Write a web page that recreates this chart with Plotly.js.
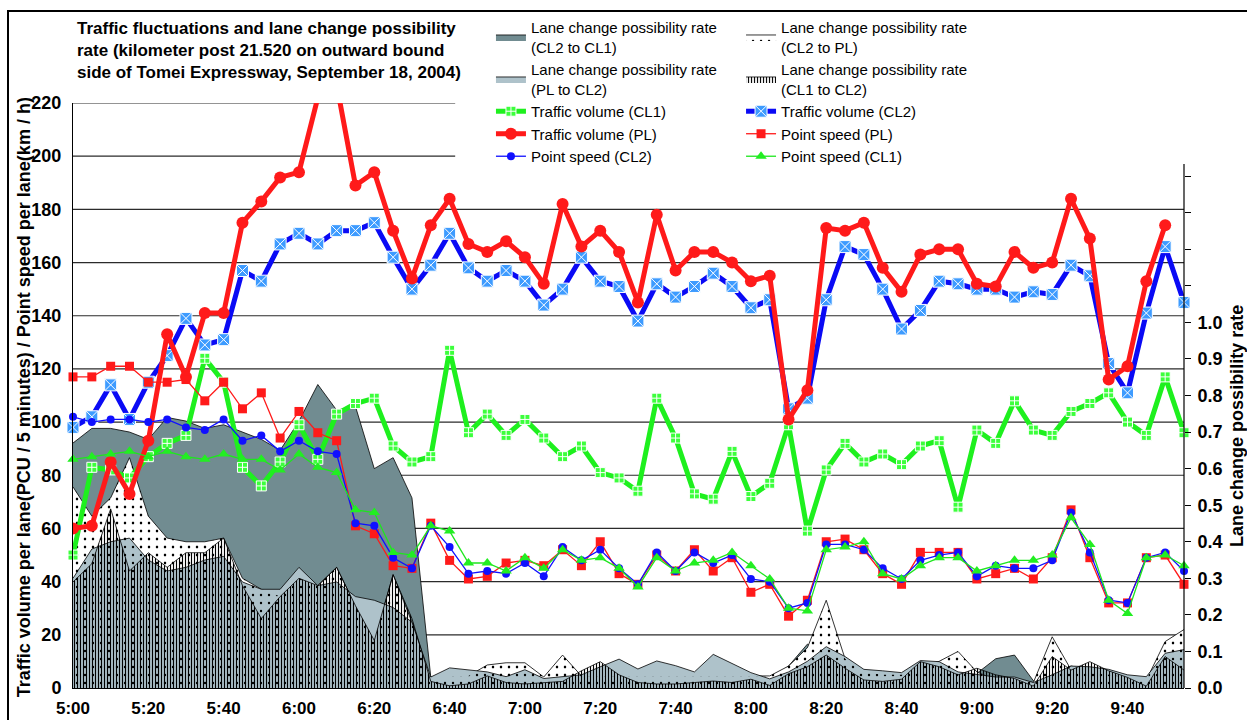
<!DOCTYPE html>
<html><head><meta charset="utf-8">
<script src="https://cdn.plot.ly/plotly-3.0.1.min.js"></script>
<style>
html,body{margin:0;padding:0;background:#fff;width:1247px;height:720px;overflow:hidden;}
#frame{position:absolute;left:7px;top:10px;width:1300px;height:800px;border-left:2px solid #000;border-top:2px solid #000;}
#chart{position:absolute;left:0;top:0;width:1247px;height:720px;}
</style></head><body>
<div id="frame"></div>
<div id="chart"></div>
<script>
// ---- categories ----
const times = ["5:00","5:05","5:10","5:15","5:20","5:25","5:30","5:35","5:40","5:45","5:50","5:55",
"6:00","6:05","6:10","6:15","6:20","6:25","6:30","6:35","6:40","6:45","6:50","6:55",
"7:00","7:05","7:10","7:15","7:20","7:25","7:30","7:35","7:40","7:45","7:50","7:55",
"8:00","8:05","8:10","8:15","8:20","8:25","8:30","8:35","8:40","8:45","8:50","8:55",
"9:00","9:05","9:10","9:15","9:20","9:25","9:30","9:35","9:40","9:45","9:50","9:55"];
const tickLabels = ["5:00","5:20","5:40","6:00","6:20","6:40","7:00","7:20","7:40","8:00","8:20","8:40","9:00","9:20","9:40"];
const leftTicks = [0,20,40,60,80,100,120,140,160,180,200,220];
const rateTicks = [0,0.1,0.2,0.3,0.4,0.5,0.6,0.7,0.8,0.9,1.0,1.1,1.2,1.3,1.4];
const rateLabels = ["0.0","0.1","0.2","0.3","0.4","0.5","0.6","0.7","0.8","0.9","1.0","","","",""];

// ---- lane change possibility rates (right axis) ----
const lcCL2toCL1 = [0.67,0.71,0.71,0.70,0.68,0.74,0.73,0.71,0.72,0.70,
0.68,0.65,0.73,0.83,0.76,0.77,0.60,0.63,0.52,0.03,
0.02,0.02,0.02,0.02,0.02,0.02,0.02,0.02,0.02,0.02,
0.02,0.02,0.02,0.02,0.02,0.02,0.02,0.02,0.06,0.12,
0.09,0.06,0.04,0.03,0.03,0.04,0.04,0.03,0.04,0.08,
0.09,0.02,0.04,0.06,0.05,0.03,0.02,0.02,0.07,0.09];
const lcCL2toPL = [0.55,0.47,0.52,0.63,0.47,0.41,0.40,0.40,0.41,0.30,
0.27,0.25,0.30,0.28,0.33,0.225,0.13,0.31,0.18,0.02,
0.033,0.033,0.063,0.069,0.069,0.03,0.09,0.033,0.033,0.033,
0.033,0.033,0.033,0.033,0.033,0.033,0.033,0.033,0.06,0.11,
0.24,0.08,0.044,0.036,0.036,0.058,0.073,0.10,0.044,0.022,
0.022,0.015,0.14,0.05,0.044,0.036,0.03,0.022,0.127,0.16];
const lcPLtoCL2 = [0.30,0.38,0.40,0.41,0.35,0.32,0.33,0.35,0.36,0.29,
0.27,0.27,0.33,0.28,0.29,0.25,0.24,0.22,0.18,0.03,
0.055,0.05,0.044,0.031,0.05,0.026,0.03,0.036,0.058,0.079,
0.052,0.074,0.061,0.044,0.092,0.068,0.042,0.025,0.044,0.073,
0.113,0.086,0.051,0.047,0.042,0.075,0.072,0.044,0.036,0.03,
0.03,0.015,0.036,0.06,0.058,0.051,0.036,0.031,0.095,0.105];
const lcCL1toCL2 = [0.29,0.34,0.49,0.32,0.37,0.33,0.37,0.37,0.41,0.28,
0.19,0.25,0.30,0.28,0.33,0.225,0.13,0.31,0.19,0.018,
0.006,0.011,0.033,0.015,0.011,0.015,0.018,0.047,0.072,0.036,
0.015,0.011,0.011,0.015,0.019,0.015,0.024,0.007,0.039,0.058,
0.09,0.054,0.022,0.018,0.024,0.072,0.058,0.036,0.054,0.036,
0.026,0.005,0.086,0.049,0.072,0.047,0.029,0.005,0.086,0.049];

// ---- traffic volume per lane (PCU / 5 min) ----
const tvCL1 = [50,83,82,79,87,92,95,124,115,83,
76,85,99,86,103,107,109,91,85,87,
127,96,103,95,101,94,87,91,81,79,
74,109,94,73,71,89,72,77,99,59,
82,92,85,88,84,91,93,68,97,92,
108,97,95,104,107,111,100,95,117,96];
const tvCL2 = [98,102,114,101,115,125,139,129,131,157,
153,167,171,167,172,172,175,162,150,159,
171,158,153,157,153,144,150,162,153,151,
138,152,147,151,156,151,143,146,105,109,
146,166,163,150,135,142,153,152,150,150,
147,149,148,159,155,122,111,141,166,145];
const tvPL = [60,61,85,73,93,133,117,141,141,175,
183,192,194,222,227,189,194,172,154,174,
184,167,164,168,162,152,182,166,172,164,
145,178,157,164,164,160,153,155,101,112,
173,172,175,158,149,163,165,165,152,151,
164,158,160,184,169,116,121,153,174,null];

// ---- point speed (km/h) ----
const psPL = [117,117,121,121,115,115,116,108,115,105,
111,94,104,96,93,61,58,46,45,62,
48,41,42,47,48,46,52,46,55,43,
39,50,44,52,44,49,36,39,27,33,
55,56,52,43,39,51,51,51,41,43,
45,41,49,67,49,32,32,49,50,39];
const psCL2 = [102,100,101,101,100,101,98,97,101,93,
95,89,93,89,88,62,61,49,45,61,
53,43,44,43,47,42,53,48,52,45,
39,51,44,51,47,50,41,40,30,32,
54,54,52,45,41,48,50,51,42,46,
45,45,48,66,51,33,32,49,51,44];
const psCL1 = [86,87,88,89,87,89,87,86,88,86,
86,82,88,83,81,67,66,51,50,61,
59,47,47,44,49,45,52,48,49,45,
38,49,44,47,48,51,46,41,30,29,
52,53,55,43,41,46,49,49,44,46,
48,48,50,64,54,33,28,49,50,46];

const FONT = "'Liberation Sans', Arial, sans-serif";
const LEGFONT = "'Liberation Sans Narrow', 'Arial Narrow', 'Liberation Sans', Arial, sans-serif";
const LC = "Lane change possibility rate<br>";

// Areas live on the base (rate) axis 'y' so they are drawn beneath the line series on 'y2'.
const traces = [
  {type:'scatter', x:times, y:lcCL2toCL1, yaxis:'y', mode:'lines', fill:'tozeroy',
   fillcolor:'#718c91', line:{color:'#000', width:0.8}, name:LC+"(CL2 to CL1)",
   legend:'legend', legendrank:1, legendgroup:'g1', hoverinfo:'skip'},
  {type:'scatter', x:times, y:lcCL2toPL, yaxis:'y', mode:'lines', fill:'tozeroy',
   fillcolor:'#ffffff', fillpattern:{shape:'.', size:8, solidity:0.07, fgcolor:'#000', bgcolor:'#ffffff', fillmode:'replace'},
   line:{color:'#000', width:0.8}, name:LC+"(CL2 to PL)",
   legend:'legend2', legendrank:1, legendgroup:'g2', hoverinfo:'skip'},
  {type:'scatter', x:times, y:lcPLtoCL2, yaxis:'y', mode:'lines', fill:'tozeroy',
   fillcolor:'#aec2ca', line:{color:'#000', width:0.8}, name:LC+"(PL to CL2)",
   legend:'legend', legendrank:2, legendgroup:'g3', hoverinfo:'skip'},
  {type:'scatter', x:times, y:lcCL2toPL, yaxis:'y', mode:'lines', fill:'tozeroy',
   fillcolor:'rgba(0,0,0,0)', fillpattern:{shape:'.', size:8, solidity:0.07, fgcolor:'#000', bgcolor:'rgba(0,0,0,0)', fillmode:'replace'},
   line:{color:'rgba(0,0,0,0)', width:0}, showlegend:false,
   legend:'legend2', legendgroup:'g2', hoverinfo:'skip'},
  {type:'scatter', x:times, y:lcCL1toCL2, yaxis:'y', mode:'lines', fill:'tozeroy',
   fillcolor:'rgba(0,0,0,0)', fillpattern:{shape:'|', size:3, solidity:0.38, fgcolor:'#000', bgcolor:'rgba(0,0,0,0)', fillmode:'replace'},
   line:{color:'#000', width:0.8}, name:LC+"(CL1 to CL2)",
   legend:'legend2', legendrank:2, legendgroup:'g4', hoverinfo:'skip'},
  {type:'scatter', x:times, y:tvCL1, yaxis:'y2', mode:'lines+markers', name:"Traffic volume (CL1)",
   line:{color:'#1ef01e', width:5}, marker:{symbol:'square-cross', size:10, color:'#3cff3c', line:{color:'#ffffff', width:1}},
   legend:'legend', legendrank:3, legendgroup:'g5', cliponaxis:false},
  {type:'scatter', x:times, y:tvCL2, yaxis:'y2', mode:'lines+markers', name:"Traffic volume (CL2)",
   line:{color:'#0a0af5', width:5}, marker:{symbol:'square-x', size:12, color:'#3d9bff', line:{color:'#ffffff', width:1}},
   legend:'legend2', legendrank:3, legendgroup:'g6', cliponaxis:false},
  {type:'scatter', x:times, y:tvPL, yaxis:'y2', mode:'lines+markers', name:"Traffic volume (PL)",
   line:{color:'#ff1a1a', width:5}, marker:{symbol:'circle', size:12, color:'#ff1a1a'},
   legend:'legend', legendrank:4, legendgroup:'g7', cliponaxis:true},
  {type:'scatter', x:times, y:psPL, yaxis:'y2', mode:'lines+markers', name:"Point speed (PL)",
   line:{color:'#ff1a1a', width:1.3}, marker:{symbol:'square', size:9, color:'#ff1a1a'},
   legend:'legend2', legendrank:4, legendgroup:'g8', cliponaxis:false},
  {type:'scatter', x:times, y:psCL2, yaxis:'y2', mode:'lines+markers', name:"Point speed (CL2)",
   line:{color:'#1010ff', width:1.3}, marker:{symbol:'circle', size:8, color:'#1010ff'},
   legend:'legend', legendrank:5, legendgroup:'g9', cliponaxis:false},
  {type:'scatter', x:times, y:psCL1, yaxis:'y2', mode:'lines+markers', name:"Point speed (CL1)",
   line:{color:'#1ee61e', width:1.3}, marker:{symbol:'triangle-up', size:10, color:'#22ee22'},
   legend:'legend2', legendrank:5, legendgroup:'g10', cliponaxis:false}
];

const shapes = leftTicks.filter(v => v > 0).map(v => ({
  type:'line', xref:'paper', yref:'y2', x0:0, x1:(v >= 200 ? 0.344 : 1), y0:v, y1:v,
  line:{color:'#2b2b2b', width:1.2}, layer:'below'
}));
shapes.push({type:'line', xref:'paper', yref:'y', x0:1, x1:1, y0:0, y1:1.433,
  line:{color:'#000', width:1.2}, layer:'above'});

const legendBase = {
  xanchor:'left', yanchor:'top', orientation:'v', bgcolor:'rgba(0,0,0,0)',
  font:{family:LEGFONT, size:15, color:'#000'}, tracegroupgap:0, borderwidth:0
};

const tickFont = {family:FONT, size:18, weight:700, color:'#000'};

const layout = {
  width:1247, height:720,
  margin:{l:73, r:63, t:103, b:32, autoexpand:false},
  paper_bgcolor:'rgba(0,0,0,0)', plot_bgcolor:'rgba(0,0,0,0)',
  font:{family:FONT, color:'#000'},
  title:{text:"Traffic fluctuations and lane change possibility<br>rate (kilometer post 21.520 on outward bound<br>side of Tomei Expressway, September 18, 2004)",
         font:{family:FONT, size:17, weight:700, color:'#000'},
         xref:'paper', x:0.0036, xanchor:'left', yref:'container', y:0.9525, yanchor:'top'},
  xaxis:{type:'category', categoryorder:'array', categoryarray:times, range:[0,59],
         tickmode:'array', tickvals:tickLabels, ticktext:tickLabels, ticks:'',
         ticklabelstandoff:5, tickfont:{family:FONT, size:17, weight:700, color:'#000'},
         showgrid:false, zeroline:false, showline:true, linecolor:'#000', linewidth:1},
  // rate axis (right)
  yaxis:{side:'right', range:[0,1.6], tickmode:'array', tickvals:rateTicks, ticktext:rateLabels,
         ticks:'outside', ticklen:6, tickcolor:'#000', tickwidth:1,
         ticklabelstandoff:3, tickfont:tickFont,
         showgrid:false, zeroline:false, showline:false},
  // volume / speed axis (left)
  yaxis2:{overlaying:'y', side:'left', range:[0,220], tickmode:'array', tickvals:leftTicks, ticks:'',
          ticklabelstandoff:7, tickfont:tickFont,
          showgrid:false, zeroline:false, showline:true, linecolor:'#000', linewidth:1},
  legend:Object.assign({x:0.3762, y:1.1573}, legendBase),
  legend2:Object.assign({x:0.6013, y:1.1573}, legendBase),
  shapes:shapes,
  annotations:[
    {text:"Traffic volume per lane(PCU / 5 minutes) / Point speed per lane(km / h)",
     xref:'paper', yref:'paper', x:-0.0441, y:0.497, textangle:-90, showarrow:false,
     xanchor:'center', yanchor:'middle', font:{family:FONT, size:18, weight:700, color:'#000'}},
    {text:"Lane change possibility rate",
     xref:'paper', yref:'paper', x:1.0477, y:0.448, textangle:-90, showarrow:false,
     xanchor:'center', yanchor:'middle', font:{family:FONT, size:18, weight:700, color:'#000'}}
  ],
  showlegend:true
};

Plotly.newPlot('chart', traces, layout, {staticPlot:true, displayModeBar:false});
</script>
</body></html>
